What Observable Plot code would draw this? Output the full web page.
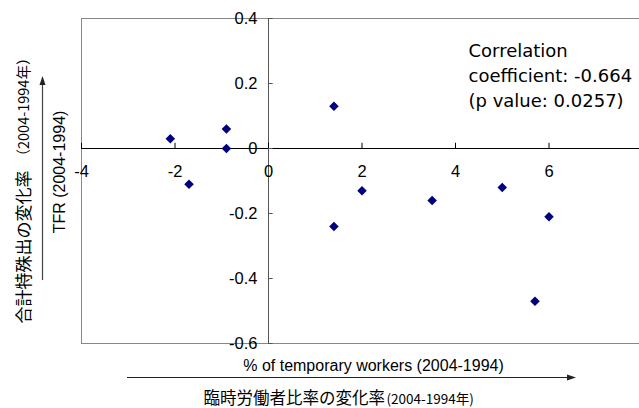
<!DOCTYPE html>
<html>
<head>
<meta charset="utf-8">
<script src="https://cdn.jsdelivr.net/npm/d3@7"></script>
<script src="https://cdn.jsdelivr.net/npm/@observablehq/plot@0.6"></script>
<style>
  html, body { margin: 0; padding: 0; background: #fff; }
  svg { overflow: hidden; }
</style>
</head>
<body>
<div id="chart"></div>
<script>
// Change in % temporary workers (2004-1994)
const tempWorkers = [-2.1, -1.7, -0.9, -0.9, 1.4, 1.4, 2.0, 3.5, 5.0, 5.7, 6.0];
// Change in TFR (2004-1994)
const tfrChange   = [0.03, -0.11, 0.06, 0.0, 0.13, -0.24, -0.13, -0.16, -0.12, -0.47, -0.21];

const xTicks = [-4, -2, 0, 2, 4, 6];
const yTicks = [0.4, 0.2, 0, -0.2, -0.4, -0.6];
const yTickLabels = ["0.4", "0.2", "0", "-0.2", "-0.4", "-0.6"];

const xTitleEn = "% of temporary workers (2004-1994)";
const xTitleJa = "臨時労働者比率の変化率";
const xTitleJaYears = "(2004-1994年)";
const yTitleEn = "TFR (2004-1994)";
const yTitleJa = "合計特殊出の変化率";
const yTitleJaYears = "（2004-1994年）";
const noteLines = ["Correlation", "coefficient: -0.664", "(p value: 0.0257)"];

const points = tempWorkers.map((x, i) => ({x, y: tfrChange[i]}));
const sans = "'Liberation Sans', Arial, sans-serif";
const cjk = "'Noto Sans CJK JP', sans-serif";

const plot = Plot.plot({
  width: 639,
  height: 408,
  marginLeft: 81,
  marginRight: -3,
  marginTop: 18,
  marginBottom: 65,
  style: {fontFamily: sans, fontSize: "16px", background: "#fff", overflow: "hidden"},
  x: {domain: [-4, 8], axis: null},
  y: {domain: [-0.6, 0.4], axis: null},
  marks: [
    Plot.frame({stroke: "#888", strokeWidth: 1}),
    Plot.ruleY([0], {stroke: "#000", strokeWidth: 1}),
    Plot.ruleX([0], {stroke: "#555", strokeWidth: 1}),
    Plot.ruleX(xTicks, {x: d => d, y1: 0, y2: 0.016, stroke: "#000"}),
    Plot.ruleY(yTicks, {y: d => d, x1: 0, x2: 0.1, stroke: "#555"}),
    Plot.text(xTicks, {x: d => d, y: 0, dy: 23, text: d => String(d), fontSize: 16.5, fill: "#000"}),
    Plot.text(yTicks, {x: 0, y: d => d, dx: -11, text: (d, i) => yTickLabels[i], textAnchor: "end", fontSize: 16.5, fill: "#000"}),
    Plot.dot(points, {x: "x", y: "y", symbol: "diamond2", r: 4.3, fill: "#000080", stroke: "none"}),
    Plot.text([noteLines.join("\n")], {frameAnchor: "top-left", dx: 387, dy: 21, text: d => d, textAnchor: "start", lineAnchor: "top", lineHeight: 1.38, fontSize: 18, fontFamily: "'DejaVu Sans', sans-serif", fill: "#000"}),
    // axis titles
    Plot.text([xTitleEn], {frameAnchor: "bottom-left", dx: 292, dy: 22, text: d => d, textAnchor: "middle", lineAnchor: "middle", fontSize: 16, fill: "#000"}),
    Plot.text([xTitleJa], {frameAnchor: "bottom-left", dx: 122, dy: 55, text: d => d, textAnchor: "start", lineAnchor: "middle", fontSize: 16.5, fontFamily: cjk, fill: "#000"}),
    Plot.text([xTitleJaYears], {frameAnchor: "bottom-left", dx: 305, dy: 56, text: d => d, textAnchor: "start", lineAnchor: "middle", fontSize: 13.5, fontFamily: cjk, fill: "#000"}),
    Plot.text([yTitleEn], {frameAnchor: "left", dx: -22, dy: -9, rotate: -90, text: d => d, textAnchor: "middle", lineAnchor: "middle", fontSize: 16, fill: "#000"}),
    Plot.text([yTitleJa], {frameAnchor: "bottom-left", dx: -57, dy: -20, rotate: -90, text: d => d, textAnchor: "start", lineAnchor: "middle", fontSize: 17, fontFamily: cjk, fill: "#000"}),
    Plot.text([yTitleJaYears], {frameAnchor: "bottom-left", dx: -57, dy: -180, rotate: -90, text: d => d, textAnchor: "start", lineAnchor: "middle", fontSize: 14.5, fontFamily: cjk, fill: "#000"})
  ]
});

// annotation arrows beside the axis titles
const svg = d3.select(plot);
const ns = svg.append("g").attr("stroke", "#222").attr("fill", "#222");
// horizontal arrow
ns.append("line").attr("x1", 127).attr("y1", 377.5).attr("x2", 568).attr("y2", 377.5).attr("stroke-width", 1.2);
ns.append("path").attr("d", "M576,377.5 L567,374.5 L567,380.5 Z").attr("stroke", "none");
// vertical arrow
ns.append("line").attr("x1", 42.5).attr("y1", 280).attr("x2", 42.5).attr("y2", 84).attr("stroke-width", 1.2).attr("stroke", "#444");
ns.append("path").attr("d", "M42.5,76 L39.5,85 L45.5,85 Z").attr("stroke", "none");

document.getElementById("chart").appendChild(plot);
</script>
</body>
</html>
